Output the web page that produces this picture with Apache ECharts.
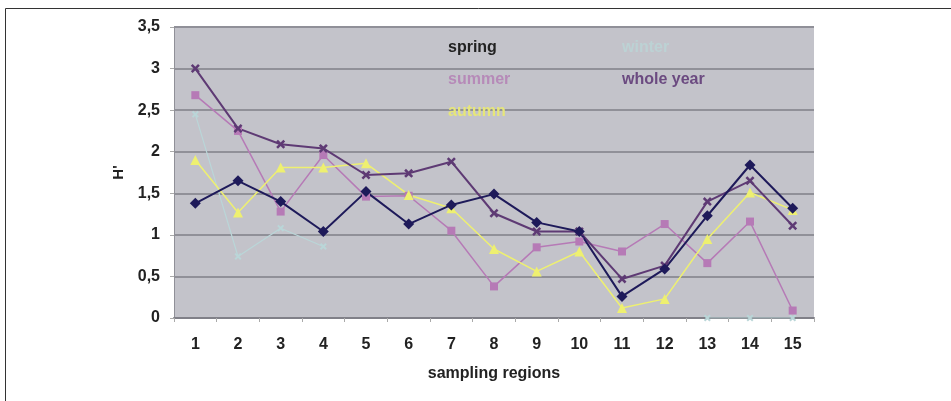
<!DOCTYPE html>
<html style="height: 100%">
<head>
    <meta charset="utf-8">
    <title>H' by sampling region</title>
    <style>
        html, body { margin: 0; padding: 0; background: #fff; }
        #container { width: 951px; height: 401px; }
    </style>
</head>
<body>
    <div id="container"></div>
</body>
<script src="https://cdn.jsdelivr.net/npm/echarts@6/dist/echarts.min.js"></script>
<script type="text/javascript">
    // sampling regions 1..15
    var regions = ['1', '2', '3', '4', '5', '6', '7', '8', '9', '10', '11', '12', '13', '14', '15'];
    var spring = [1.38, 1.65, 1.40, 1.04, 1.52, 1.13, 1.36, 1.49, 1.15, 1.04, 0.26, 0.59, 1.23, 1.84, 1.32];
    var summer = [2.68, 2.25, 1.28, 1.96, 1.46, 1.47, 1.05, 0.38, 0.85, 0.92, 0.80, 1.13, 0.66, 1.16, 0.09];
    var autumn = [1.90, 1.27, 1.81, 1.81, 1.86, 1.48, 1.32, 0.83, 0.56, 0.80, 0.12, 0.23, 0.95, 1.51, 1.30];
    var winter = [2.45, 0.74, 1.08, 0.86, null, null, null, null, null, null, null, null, 0, 0, 0];
    var wholeYear = [3.00, 2.28, 2.09, 2.04, 1.72, 1.74, 1.88, 1.26, 1.04, 1.04, 0.47, 0.63, 1.40, 1.65, 1.11];

    var xMark = 'path://M2,0L5,3L8,0L10,2L7,5L10,8L8,10L5,7L2,10L0,8L3,5L0,2Z';
    var font = '"Liberation Sans Narrow", "Liberation Sans", Arial, sans-serif';

    var dom = document.getElementById('container');
    var myChart = echarts.init(dom);

    function line(name, data, color, symbol, size, width) {
        return {
            name: name,
            type: 'line',
            data: data,
            symbol: symbol,
            symbolSize: size,
            showAllSymbol: true,
            animation: false,
            lineStyle: { color: color, width: width },
            itemStyle: { color: color }
        };
    }

    myChart.setOption({
        backgroundColor: '#fff',
        animation: false,
        grid: {
            left: 174,
            right: 137,
            top: 27,
            bottom: 83,
            show: true,
            backgroundColor: '#c3c3ca',
            borderWidth: 0
        },
        legend: [{
            left: 438, top: 35, orient: 'vertical', itemGap: 16,
            itemWidth: 0, itemHeight: 0, selectedMode: false,
            textStyle: { fontFamily: font, fontSize: 16, fontWeight: 'bold' },
            data: [
                { name: 'spring', icon: 'none', textStyle: { color: '#222' } },
                { name: 'summer', icon: 'none', textStyle: { color: '#b68ab8' } },
                { name: 'autumn', icon: 'none', textStyle: { color: '#e6e67a' } }
            ]
        }, {
            left: 612, top: 35, orient: 'vertical', itemGap: 16,
            itemWidth: 0, itemHeight: 0, selectedMode: false,
            textStyle: { fontFamily: font, fontSize: 16, fontWeight: 'bold' },
            data: [
                { name: 'winter', icon: 'none', textStyle: { color: '#bcd2d4' } },
                { name: 'whole year', icon: 'none', textStyle: { color: '#6b4a80' } }
            ]
        }],
        xAxis: {
            type: 'category',
            data: regions,
            name: 'sampling regions',
            nameLocation: 'middle',
            nameGap: 48,
            nameTextStyle: { fontFamily: font, fontSize: 16, fontWeight: 'bold', color: '#222' },
            axisLine: { lineStyle: { color: '#808088', width: 2 } },
            axisTick: { show: true, length: 4, lineStyle: { color: '#aaa' } },
            axisLabel: { fontFamily: font, fontSize: 16, fontWeight: 'bold', color: '#222', margin: 19 }
        },
        yAxis: {
            type: 'value',
            min: 0,
            max: 3.5,
            interval: 0.5,
            name: "H'",
            nameLocation: 'middle',
            nameGap: 48,
            nameRotate: 90,
            nameTextStyle: { fontFamily: font, fontSize: 15, fontWeight: 'bold', color: '#222' },
            axisLine: { show: true, lineStyle: { color: '#909098' } },
            axisTick: { show: true, length: 4, lineStyle: { color: '#aaa' } },
            axisLabel: {
                fontFamily: font, fontSize: 16, fontWeight: 'bold', color: '#222', margin: 14,
                formatter: function (v) { return String(v).replace('.', ','); }
            },
            splitLine: { show: true, lineStyle: { color: '#909098', width: 2 } }
        },
        graphic: [{
            type: 'rect',
            shape: { x: 5.5, y: 8.5, width: 960, height: 420 },
            style: { fill: 'none', stroke: '#333', lineWidth: 1 },
            silent: true
        }],
        series: [
            line('winter', winter, '#bad6d8', xMark, 7, 1.2),
            line('summer', summer, '#b67ab6', 'rect', 8, 1.5),
            line('autumn', autumn, '#eef070', 'triangle', 10, 1.5),
            line('whole year', wholeYear, '#5e3a74', xMark, 9, 2),
            line('spring', spring, '#1e1a5a', 'diamond', 11, 2)
        ]
    });
</script>
</html>
